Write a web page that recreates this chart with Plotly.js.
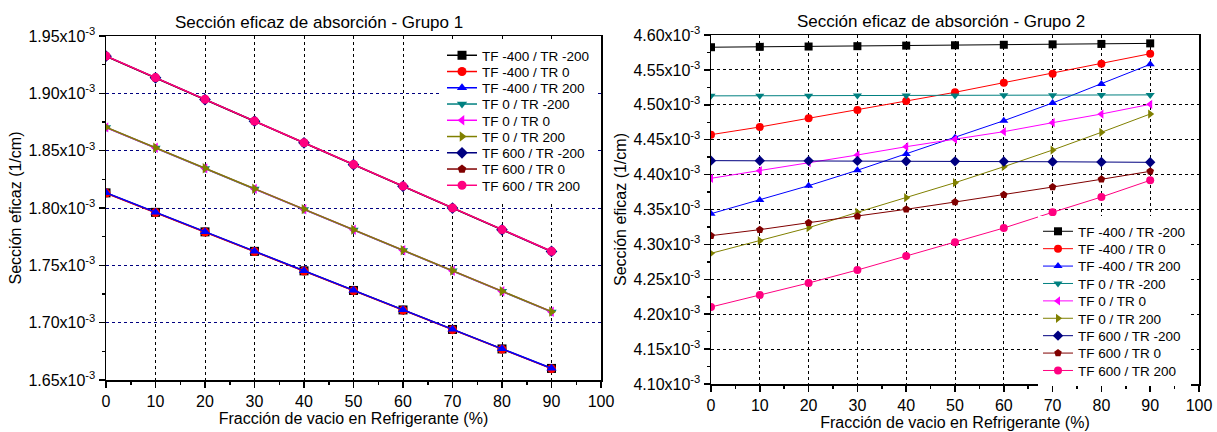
<!DOCTYPE html>
<html><head><meta charset="utf-8">
<script src="https://cdn.plot.ly/plotly-3.0.1.min.js"></script>
<style>html,body{margin:0;padding:0;background:#fff}#chart{width:1217px;height:432px}</style>
</head><body><div id="chart"></div>
<script>
// Fracción de vacío en refrigerante (%)
const fraccionVacio = [0, 10, 20, 30, 40, 50, 60, 70, 80, 90];

const seriesNames = [
  'TF -400 / TR -200', 'TF -400 / TR 0', 'TF -400 / TR 200',
  'TF 0 / TR -200', 'TF 0 / TR 0', 'TF 0 / TR 200',
  'TF 600 / TR -200', 'TF 600 / TR 0', 'TF 600 / TR 200'
];

// Values in units of 1e-3 1/cm
const SCALE = 1e-3;

// Grupo 1
const g1_tfm400_trm200 = [1.8132, 1.7962, 1.7792, 1.7622, 1.7452, 1.7281, 1.7111, 1.6941, 1.6771, 1.6601];
const g1_tfm400_tr0    = [1.8130, 1.7960, 1.7790, 1.7620, 1.7450, 1.7279, 1.7109, 1.6939, 1.6769, 1.6599];
const g1_tfm400_tr200  = [1.8134, 1.7964, 1.7793, 1.7623, 1.7453, 1.7283, 1.7112, 1.6942, 1.6772, 1.6602];
const g1_tf0_trm200    = [1.8702, 1.8524, 1.8345, 1.8166, 1.7988, 1.7809, 1.7630, 1.7452, 1.7273, 1.7094];
const g1_tf0_tr0       = [1.8703, 1.8525, 1.8346, 1.8167, 1.7989, 1.7810, 1.7631, 1.7453, 1.7274, 1.7095];
const g1_tf0_tr200     = [1.8704, 1.8526, 1.8347, 1.8168, 1.7990, 1.7811, 1.7632, 1.7454, 1.7275, 1.7096];
const g1_tf600_trm200  = [1.9324, 1.9135, 1.8946, 1.8757, 1.8568, 1.8378, 1.8189, 1.7999, 1.7810, 1.7621];
const g1_tf600_tr0     = [1.9325, 1.9136, 1.8947, 1.8758, 1.8569, 1.8379, 1.8190, 1.8000, 1.7811, 1.7622];
const g1_tf600_tr200   = [1.9326, 1.9137, 1.8948, 1.8759, 1.8570, 1.8380, 1.8191, 1.8001, 1.7812, 1.7623];

// Grupo 2
const g2_tfm400_trm200 = [4.5825, 4.5830, 4.5835, 4.5840, 4.5848, 4.5853, 4.5860, 4.5866, 4.5872, 4.5880];
const g2_tfm400_tr0    = [4.4572, 4.4682, 4.4807, 4.4925, 4.5054, 4.5179, 4.5317, 4.5446, 4.5589, 4.5732];
const g2_tfm400_tr200  = [4.3440, 4.3636, 4.3841, 4.4062, 4.4295, 4.4529, 4.4772, 4.5026, 4.5298, 4.5580];
const g2_tf0_trm200    = [4.5128, 4.5130, 4.5131, 4.5132, 4.5133, 4.5135, 4.5136, 4.5138, 4.5140, 4.5142];
const g2_tf0_tr0       = [4.3947, 4.4056, 4.4171, 4.4281, 4.4400, 4.4506, 4.4615, 4.4744, 4.4868, 4.5007];
const g2_tf0_tr200     = [4.2872, 4.3053, 4.3239, 4.3460, 4.3669, 4.3884, 4.4113, 4.4352, 4.4606, 4.4868];
const g2_tf600_trm200  = [4.4200, 4.4199, 4.4197, 4.4196, 4.4192, 4.4190, 4.4187, 4.4184, 4.4180, 4.4176];
const g2_tf600_tr0     = [4.3125, 4.3211, 4.3311, 4.3402, 4.3503, 4.3607, 4.3712, 4.3822, 4.3933, 4.4047];
const g2_tf600_tr200   = [4.2103, 4.2275, 4.2447, 4.2633, 4.2834, 4.3030, 4.3235, 4.3460, 4.3679, 4.3918];

const xTickVals = [0, 10, 20, 30, 40, 50, 60, 70, 80, 90, 100];
const xMinorVals = [5, 15, 25, 35, 45, 55, 65, 75, 85, 95];
const yTickVals1 = [1.65e-3, 1.70e-3, 1.75e-3, 1.80e-3, 1.85e-3, 1.90e-3, 1.95e-3];
const yTickText1 = ['1.65x10<sup>-3</sup>', '1.70x10<sup>-3</sup>', '1.75x10<sup>-3</sup>', '1.80x10<sup>-3</sup>',
                    '1.85x10<sup>-3</sup>', '1.90x10<sup>-3</sup>', '1.95x10<sup>-3</sup>'];
const yMinor1 = [1.675e-3, 1.725e-3, 1.775e-3, 1.825e-3, 1.875e-3, 1.925e-3];
const yTickVals2 = [4.10e-3, 4.15e-3, 4.20e-3, 4.25e-3, 4.30e-3, 4.35e-3, 4.40e-3, 4.45e-3, 4.50e-3, 4.55e-3, 4.60e-3];
const yTickText2 = ['4.10x10<sup>-3</sup>', '4.15x10<sup>-3</sup>', '4.20x10<sup>-3</sup>', '4.25x10<sup>-3</sup>',
                    '4.30x10<sup>-3</sup>', '4.35x10<sup>-3</sup>', '4.40x10<sup>-3</sup>', '4.45x10<sup>-3</sup>',
                    '4.50x10<sup>-3</sup>', '4.55x10<sup>-3</sup>', '4.60x10<sup>-3</sup>'];
const yMinor2 = [4.125e-3, 4.175e-3, 4.225e-3, 4.275e-3, 4.325e-3, 4.375e-3, 4.425e-3, 4.475e-3, 4.525e-3, 4.575e-3];

const colors = ['#000000', '#FF0000', '#0000FF', '#008080', '#FF00FF', '#808000', '#000080', '#800000', '#FF0080'];
const symbols = ['square', 'circle', 'triangle-up', 'triangle-down', 'triangle-left', 'triangle-right', 'diamond', 'pentagon', 'circle'];

const grupo1 = [g1_tfm400_trm200, g1_tfm400_tr0, g1_tfm400_tr200, g1_tf0_trm200, g1_tf0_tr0, g1_tf0_tr200, g1_tf600_trm200, g1_tf600_tr0, g1_tf600_tr200];
const grupo2 = [g2_tfm400_trm200, g2_tfm400_tr0, g2_tfm400_tr200, g2_tf0_trm200, g2_tf0_tr0, g2_tf0_tr200, g2_tf600_trm200, g2_tf600_tr0, g2_tf600_tr200];

const traces = [];
grupo1.forEach((ys, i) => traces.push({
  type: 'scatter', mode: 'lines+markers', name: seriesNames[i],
  x: fraccionVacio, y: ys.map(v => v * SCALE), xaxis: 'x', yaxis: 'y', legend: 'legend',
  line: {color: colors[i], width: 1.5},
  marker: {symbol: symbols[i], size: 9, color: colors[i], line: {width: 0}}
}));
grupo2.forEach((ys, i) => traces.push({
  type: 'scatter', mode: 'lines+markers', name: seriesNames[i],
  x: fraccionVacio, y: ys.map(v => v * SCALE), xaxis: 'x2', yaxis: 'y2', legend: 'legend2',
  line: {color: colors[i], width: 1},
  marker: {symbol: symbols[i], size: 8, color: colors[i], line: {width: 0}}
}));

const W = 1217, H = 432;
const dom1x = [106 / W, 601 / W], dom1y = [1 - 380 / H, 1 - 36 / H];
const dom2x = [711 / W, 1199 / W], dom2y = [1 - 384 / H, 1 - 35 / H];

function xAxis(dom, anchor, gridcolor) {
  return {
    domain: dom, anchor: anchor, range: [0, 100], tickmode: 'array', tickvals: xTickVals,
    ticks: 'outside', ticklen: 6, tickwidth: 1.5, tickcolor: '#000',
    showline: true, linewidth: 1.5, linecolor: '#000', mirror: true,
    showgrid: true, gridcolor: gridcolor, griddash: 'dot', gridwidth: 1, zeroline: false,
    tickfont: {size: 16, color: '#000'},
    minor: {tickmode: 'array', tickvals: xMinorVals, ticks: 'outside', ticklen: 3, tickwidth: 1.5, tickcolor: '#000', showgrid: false},
    title: {text: 'Fracción de vacio en Refrigerante (%)', font: {size: 16, color: '#000'}, standoff: 2}
  };
}
function yAxis(dom, anchor, range, tv, tt, minorv, gridcolor) {
  return {
    domain: dom, anchor: anchor, range: range, tickmode: 'array', tickvals: tv, ticktext: tt,
    ticks: 'outside', ticklen: 6, tickwidth: 1.5, tickcolor: '#000',
    showline: true, linewidth: 1.5, linecolor: '#000', mirror: true,
    showgrid: true, gridcolor: gridcolor, griddash: 'dot', gridwidth: 1, zeroline: false,
    tickfont: {size: 16, color: '#000'},
    minor: {tickmode: 'array', tickvals: minorv, ticks: 'outside', ticklen: 3, tickwidth: 1.5, tickcolor: '#000', showgrid: false},
    title: {text: 'Sección eficaz (1/cm)', font: {size: 16, color: '#000'}, standoff: 3}
  };
}
function overlayX(over, anchor) {
  return {overlaying: over, anchor: anchor, side: 'top', range: [0, 100], tickmode: 'array', tickvals: xTickVals,
    ticks: 'inside', ticklen: 5, tickwidth: 1.5, tickcolor: '#000', showticklabels: false, showline: false, showgrid: false, zeroline: false,
    minor: {tickmode: 'array', tickvals: xMinorVals, ticks: 'inside', ticklen: 3, tickwidth: 1.5, tickcolor: '#000', showgrid: false}};
}
function overlayY(over, anchor, range, tv, minorv) {
  return {overlaying: over, anchor: anchor, side: 'right', range: range, tickmode: 'array', tickvals: tv,
    ticks: 'inside', ticklen: 5, tickwidth: 1.5, tickcolor: '#000', showticklabels: false, showline: false, showgrid: false, zeroline: false,
    minor: {tickmode: 'array', tickvals: minorv, ticks: 'inside', ticklen: 3, tickwidth: 1.5, tickcolor: '#000', showgrid: false}};
}

const range1 = [1.65e-3, 1.95e-3], range2 = [4.10e-3, 4.60e-3];

const layout = {
  width: W, height: H, margin: {l: 0, r: 0, t: 0, b: 0},
  paper_bgcolor: '#fff', plot_bgcolor: '#fff',
  font: {family: 'Arial, "Liberation Sans", sans-serif', color: '#000'},
  showlegend: true,
  xaxis: xAxis(dom1x, 'y', '#000000'),
  yaxis: yAxis(dom1y, 'x', range1, yTickVals1, yTickText1, yMinor1, '#000080'),
  xaxis2: xAxis(dom2x, 'y2', '#000000'),
  yaxis2: yAxis(dom2y, 'x2', range2, yTickVals2, yTickText2, yMinor2, '#000000'),
  xaxis3: overlayX('x', 'y'),
  yaxis3: overlayY('y', 'x', range1, yTickVals1, yMinor1),
  xaxis4: overlayX('x2', 'y2'),
  yaxis4: overlayY('y2', 'x2', range2, yTickVals2, yMinor2),
  legend: {x: 442 / W, y: 1 - 40 / H, xanchor: 'left', yanchor: 'top', bgcolor: '#fff', borderwidth: 0,
           font: {size: 13.5, color: '#000'}, itemwidth: 30, tracegroupgap: 0},
  legend2: {x: 1038 / W, y: 1 - 216 / H, xanchor: 'left', yanchor: 'top', bgcolor: '#fff', borderwidth: 0,
            font: {size: 13.5, color: '#000'}, itemwidth: 30, tracegroupgap: 0},
  annotations: [
    {text: 'Sección eficaz de absorción - Grupo 1', xref: 'paper', yref: 'paper', x: 319 / W, y: 1 - 22 / H,
     xanchor: 'center', yanchor: 'middle', showarrow: false, font: {size: 17, color: '#000'}},
    {text: 'Sección eficaz de absorción - Grupo 2', xref: 'paper', yref: 'paper', x: 941 / W, y: 1 - 21 / H,
     xanchor: 'center', yanchor: 'middle', showarrow: false, font: {size: 17, color: '#000'}}
  ]
};

function parseTranslate(el) {
  const t = (el && el.getAttribute && el.getAttribute('transform')) || '';
  const m = /translate\(\s*([-\d.eE]+)[\s,]+([-\d.eE]+)/.exec(t);
  return m ? [parseFloat(m[1]), parseFloat(m[2])] : [0, 0];
}
// Tighten legend row spacing to match the compact legend of the original figure
function compressLegend(gd, cls, spacing) {
  const lg = gd.querySelector('g.' + cls);
  if (!lg) return;
  const items = Array.from(lg.querySelectorAll('g.traces'));
  if (items.length < 2) return;
  const absY = items.map(el => parseTranslate(el)[1] + parseTranslate(el.parentNode)[1]);
  const orig = (absY[absY.length - 1] - absY[0]) / (items.length - 1);
  items.forEach((el, i) => {
    const [tx, ty] = parseTranslate(el);
    const target = absY[0] + i * spacing;
    el.setAttribute('transform', 'translate(' + tx + ',' + (ty + target - absY[i]) + ')');
  });
  const bg = lg.querySelector('rect.bg');
  if (bg) {
    const h = parseFloat(bg.getAttribute('height'));
    if (isFinite(h)) bg.setAttribute('height', h - (items.length - 1) * (orig - spacing));
  }
}

Plotly.newPlot('chart', traces, layout, {displayModeBar: false, staticPlot: true}).then(gd => {
  compressLegend(gd, 'legend', 16.25);
  compressLegend(gd, 'legend2', 17.4);
});
</script>
</body></html>
